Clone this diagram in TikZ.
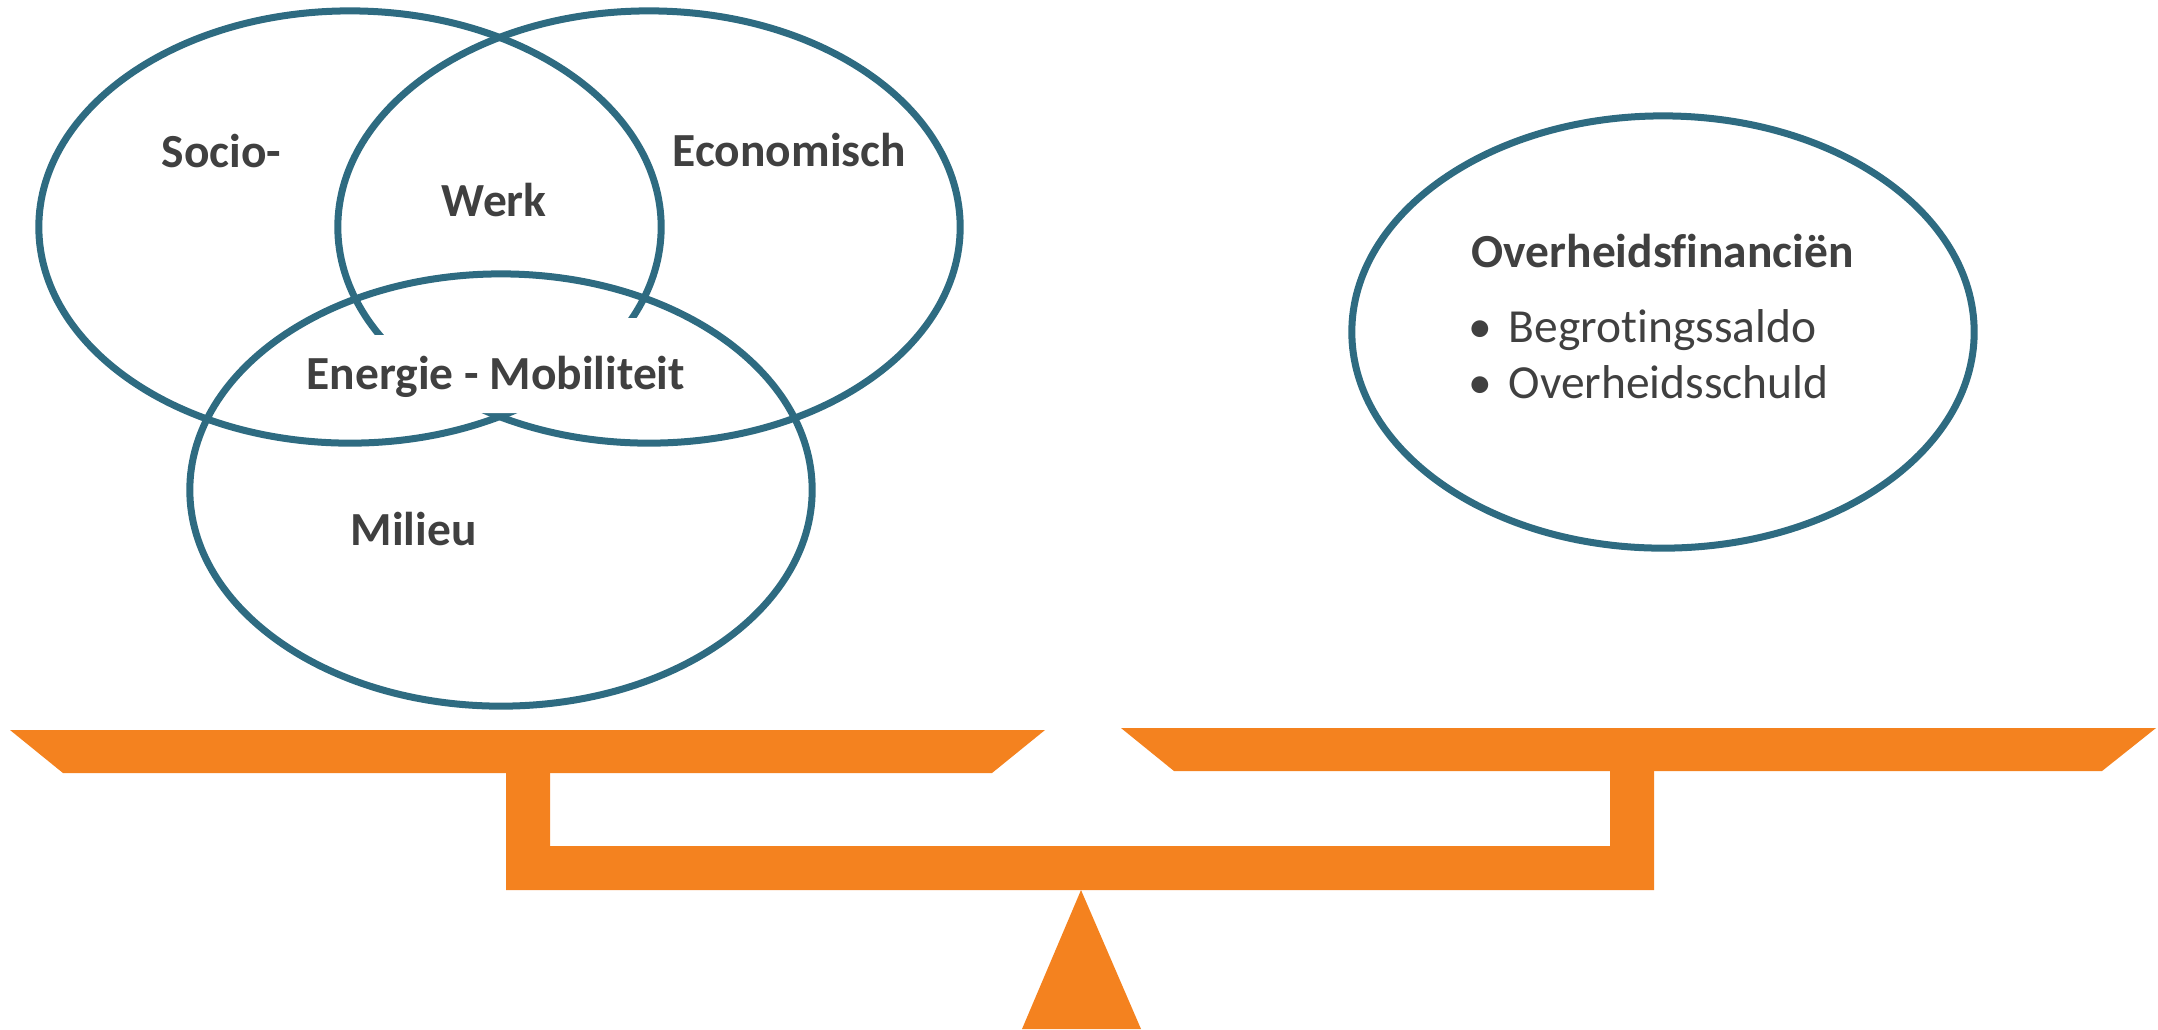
\documentclass[tikz,border=0pt]{standalone}
\usepackage{fontspec}
\setmainfont{Carlito}[Ligatures=NoCommon]
\usepackage{tikz}
\usetikzlibrary{shapes.geometric}
\definecolor{ringblue}{HTML}{2E6B81}
\definecolor{scaleorange}{HTML}{F4821F}
\definecolor{txtgray}{HTML}{404040}

\begin{document}
\begin{tikzpicture}[x=0.01cm, y=-0.01cm,
  ring/.style={ellipse, draw=ringblue, line width=0.07cm, minimum width=6.22cm, minimum height=4.32cm, inner sep=0em},
  lbl/.style={anchor=base west, inner sep=0em, text=txtgray, font=\bfseries},
  item/.style={anchor=base west, inner sep=0em, text=txtgray}]
  \fontsize{13.5}{16}\selectfont

  \useasboundingbox (0,0) rectangle (2158,1029);

  % Socio- and Economisch

  \node[ring] (socio) at (350,227) {};
  \node[ring] (econ) at (649,227) {};

  % white cover behind Energie - Mobiliteit

  \fill[white] (287,335) -- (500,335) -- (500,318) -- (715,318) -- (715,413) -- (287,413) -- cycle;

  % Milieu

  \node[ring] (milieu) at (501,490) {};

  % Overheidsfinancien

  \node[ring] (overheid) at (1663,332) {};

  % Labels

  \node[lbl] (socioL) at (161,167) {Socio-};
  \node[lbl] (econL) at (672,166) {Economisch};
  \node[lbl] (werkL) at (441,216) {Werk};
  \node[lbl] (energieL) at (306,389) {Energie - Mobiliteit};
  \node[lbl] (milieuL) at (350,545) {Milieu};

  \node[lbl] (overheidL) at (1471,267) {Overheidsfinanciën};
  \node[item, anchor=base] (dot1) at (1480,342) {•};
  \node[item] (item1) at (1508,342) {Begrotingssaldo};
  \node[item, anchor=base] (dot2) at (1480,398) {•};
  \node[item] (item2) at (1508,398) {Overheidsschuld};

  % Balance

  \fill[scaleorange] (10,730) -- (1045,730) -- (992,773) -- (63,773) -- cycle;
  \fill[scaleorange] (1121,728) -- (2156,728) -- (2102,771) -- (1174,771) -- cycle;
  \fill[scaleorange] (506,770) -- (550,770) -- (550,846) -- (1610,846) -- (1610,768)
    -- (1654,768) -- (1654,890) -- (506,890) -- cycle;
  \fill[scaleorange] (1081,890) -- (1141,1029) -- (1022,1029) -- cycle;

\end{tikzpicture}
\end{document}
